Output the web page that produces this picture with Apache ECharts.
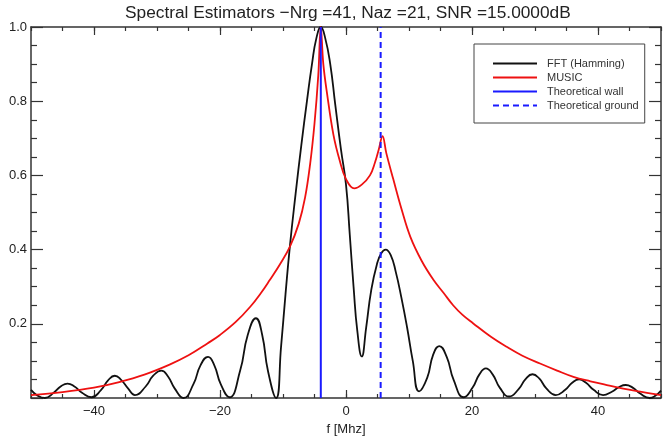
<!DOCTYPE html>
<html>
<head>
<meta charset="utf-8">
<script src="https://cdn.jsdelivr.net/npm/echarts@6/dist/echarts.min.js"></script>
<style>
html,body{margin:0;padding:0;background:#fff;}
#chart{width:663px;height:436px;}
</style>
</head>
<body>
<div id="chart"></div>
<script>
// ---- data ----
var titleText = 'Spectral Estimators \u2212Nrg =41, Naz =21, SNR =15.0000dB';
var xName = 'f [Mhz]';
var seriesNames = ['FFT (Hamming)', 'MUSIC', 'Theoretical wall', 'Theoretical ground'];

var fftFreq = [
  -50, -49.0, -47.8, -46.4, -45.3, -44.2, -43.1, -41.9, -40.4,
  -38.9, -37.8, -36.7, -35.7, -34.6, -33.5,
  -31.8, -30.6, -29.3, -28.25, -27.2, -25.8,
  -24.2, -23.1, -21.9, -20.9, -19.9, -18.5,
  -16.8, -15.6, -14.3, -13.3, -12.4, -11.1,
  -10.3, -9.6, -8.9, -8.0, -7.1, -6.2, -5.4, -4.7, -4.0, -3.3, -2.5, -1.7, -0.8, 0.0, 0.6, 1.2, 1.8, 2.5,
  3.2, 4.0, 4.9, 5.6, 6.3, 7.1, 7.9, 8.8, 9.7, 10.6, 11.6,
  12.9, 13.8, 14.8, 16.0, 17.1, 18.7,
  20.1, 21.15, 22.2, 23.3, 24.4, 25.9,
  27.4, 28.5, 29.6, 30.7, 31.8, 33.3,
  34.8, 35.9, 37.0, 38.1, 39.3, 40.8,
  42.2, 43.3, 44.4, 45.5, 46.7, 48.2,
  49.1, 50];
var fftPower = [
  0.022, 0.007, 0.0, 0.014, 0.031, 0.039, 0.031, 0.014, 0.002,
  0.021, 0.047, 0.06, 0.049, 0.026, 0.008,
  0.031, 0.06, 0.074, 0.058, 0.026, 0.0,
  0.038, 0.088, 0.111, 0.088, 0.038, 0.002,
  0.074, 0.17, 0.215, 0.17, 0.074, 0.0,
  0.14, 0.28, 0.41, 0.55, 0.68, 0.8, 0.9, 0.97, 1.0, 0.97, 0.9, 0.79, 0.67, 0.575, 0.44, 0.3, 0.18, 0.112,
  0.19, 0.29, 0.36, 0.39, 0.40, 0.385, 0.34, 0.27, 0.19, 0.1, 0.018,
  0.055, 0.115, 0.14, 0.11, 0.048, 0.002,
  0.028, 0.063, 0.08, 0.063, 0.028, 0.004,
  0.024, 0.051, 0.064, 0.052, 0.026, 0.008,
  0.022, 0.041, 0.05, 0.041, 0.022, 0.008,
  0.017, 0.029, 0.035, 0.028, 0.012, 0.0,
  0.006, 0.02];

var musicFreq = [-50, -45, -40, -36, -32, -28, -25, -22, -20, -17.5, -15.2, -13.5, -12.1, -10.5, -8.9, -7.5, -6.5,
  -5.7, -5.0, -4.4, -4.0, -3.6, -3.0, -2.0, -1.0, 0.0, 1.3, 2.5, 3.8, 4.6, 5.2, 5.8, 6.4, 7.5, 8.8, 10.2,
  12.0, 13.9, 15.5, 17.0, 18.5, 20.2, 23.0, 25.5, 28.0, 30.8, 33.5, 36.1, 38.8, 41.4, 44.0, 46.7, 50];
var musicPower = [0.008, 0.016, 0.028, 0.043, 0.063, 0.09, 0.115, 0.147, 0.17, 0.205, 0.246, 0.283, 0.318, 0.36,
  0.408, 0.47, 0.54, 0.63, 0.74, 0.87, 1.0, 0.9, 0.82, 0.71, 0.64, 0.59, 0.565, 0.575, 0.6, 0.635, 0.67,
  0.706, 0.66, 0.59, 0.51, 0.435, 0.37, 0.318, 0.283, 0.25, 0.224, 0.201, 0.165, 0.138, 0.114, 0.093, 0.074,
  0.057, 0.045, 0.035, 0.025, 0.017, 0.008];

var wallFreq = -4.0;
var groundFreq = 5.5;
var lineSpan = [0, 1];

var xLabelValues = [-40, -20, 0, 20, 40];
var yMin = 0, yMax = 1, yStep = 0.2;
var xMin = -50, xMax = 50, xMinorStep = 5;

// ---- build ----
function zip(a, b) { var o = []; for (var i = 0; i < a.length; i++) o.push([a[i], b[i]]); return o; }
var FONT = '"Liberation Sans", Arial, sans-serif';
var AX = '#333';

var chart = echarts.init(document.getElementById('chart'), null, {renderer: 'canvas'});

function xAx(pos, labels) {
  return [
    { type: 'value', position: pos, min: xMin, max: xMax, interval: xMinorStep,
      axisLine: { show: true, onZero: false, lineStyle: { color: AX, width: 1.5 } },
      axisTick: { show: true, inside: true, length: 4, lineStyle: { color: AX, width: 1.2 } },
      axisLabel: { show: false }, splitLine: { show: false } },
    { type: 'value', position: pos, min: xMin, max: xMax,
      name: labels ? xName : '', nameLocation: 'middle', nameGap: 20,
      nameTextStyle: { fontFamily: FONT, fontSize: 13, color: '#222' },
      axisLine: { show: false, onZero: false },
      axisTick: { show: true, inside: true, length: 8, customValues: xLabelValues, lineStyle: { color: AX, width: 1.2 } },
      axisLabel: { show: labels, customValues: xLabelValues, margin: 7, fontFamily: FONT, fontSize: 13, color: '#222',
        formatter: function (v) { return String(v).replace('-', '\u2212'); } },
      splitLine: { show: false } }
  ];
}

function yAx(pos, labels) {
  return { type: 'value', position: pos, min: yMin, max: yMax, interval: yStep,
    axisLine: { show: true, onZero: false, lineStyle: { color: AX, width: 1.5 } },
    axisTick: { show: true, inside: true, length: 12, lineStyle: { color: AX, width: 1.2 } },
    minorTick: { show: true, splitNumber: 4, length: 6, lineStyle: { color: AX, width: 1.2 } },
    axisLabel: { show: labels, showMinLabel: false, margin: 4, fontFamily: FONT, fontSize: 13, color: '#222',
      formatter: function (v) { return v.toFixed(1); } },
    splitLine: { show: false }, minorSplitLine: { show: false } };
}

var option = {
  animation: false,
  backgroundColor: '#fff',
  title: { text: titleText, left: 120, top: 0,
    textStyle: { fontFamily: FONT, fontSize: 17.3, fontWeight: 'normal', color: '#222' } },
  grid: { left: 31, right: 2, top: 27, bottom: 38, containLabel: false, outerBoundsMode: 'none' },
  xAxis: xAx('bottom', true).concat(xAx('top', false)),
  yAxis: [yAx('left', true), yAx('right', false)],
  legend: {
    orient: 'vertical', left: 474, top: 44,
    padding: [14, 6, 12, 18],
    itemWidth: 44, itemHeight: 11, itemGap: 3,
    borderColor: '#444', borderWidth: 1,
    itemStyle: { opacity: 0 },
    textStyle: { fontFamily: FONT, fontSize: 11, color: '#333', padding: [0, 0, 0, 5] },
    data: seriesNames
  },
  series: [
    { name: seriesNames[0], type: 'line', xAxisIndex: 0, yAxisIndex: 0, data: zip(fftFreq, fftPower),
      smooth: 0.5, symbol: 'none', lineStyle: { color: '#111', width: 1.8 }, itemStyle: { color: '#111' } },
    { name: seriesNames[1], type: 'line', xAxisIndex: 0, yAxisIndex: 0, data: zip(musicFreq, musicPower),
      smooth: 0.4, symbol: 'none', lineStyle: { color: '#ee1111', width: 1.8 }, itemStyle: { color: '#ee1111' } },
    { name: seriesNames[2], type: 'line', xAxisIndex: 0, yAxisIndex: 0,
      data: [[wallFreq, lineSpan[0]], [wallFreq, lineSpan[1]]],
      symbol: 'none', lineStyle: { color: '#1a1aff', width: 2 }, itemStyle: { color: '#1a1aff' } },
    { name: seriesNames[3], type: 'line', xAxisIndex: 0, yAxisIndex: 0,
      data: [[groundFreq, lineSpan[0]], [groundFreq, lineSpan[1]]],
      symbol: 'none', lineStyle: { color: '#1a1aff', width: 2, type: [6, 4] }, itemStyle: { color: '#1a1aff' } }
  ]
};
chart.setOption(option);
</script>
</body>
</html>
